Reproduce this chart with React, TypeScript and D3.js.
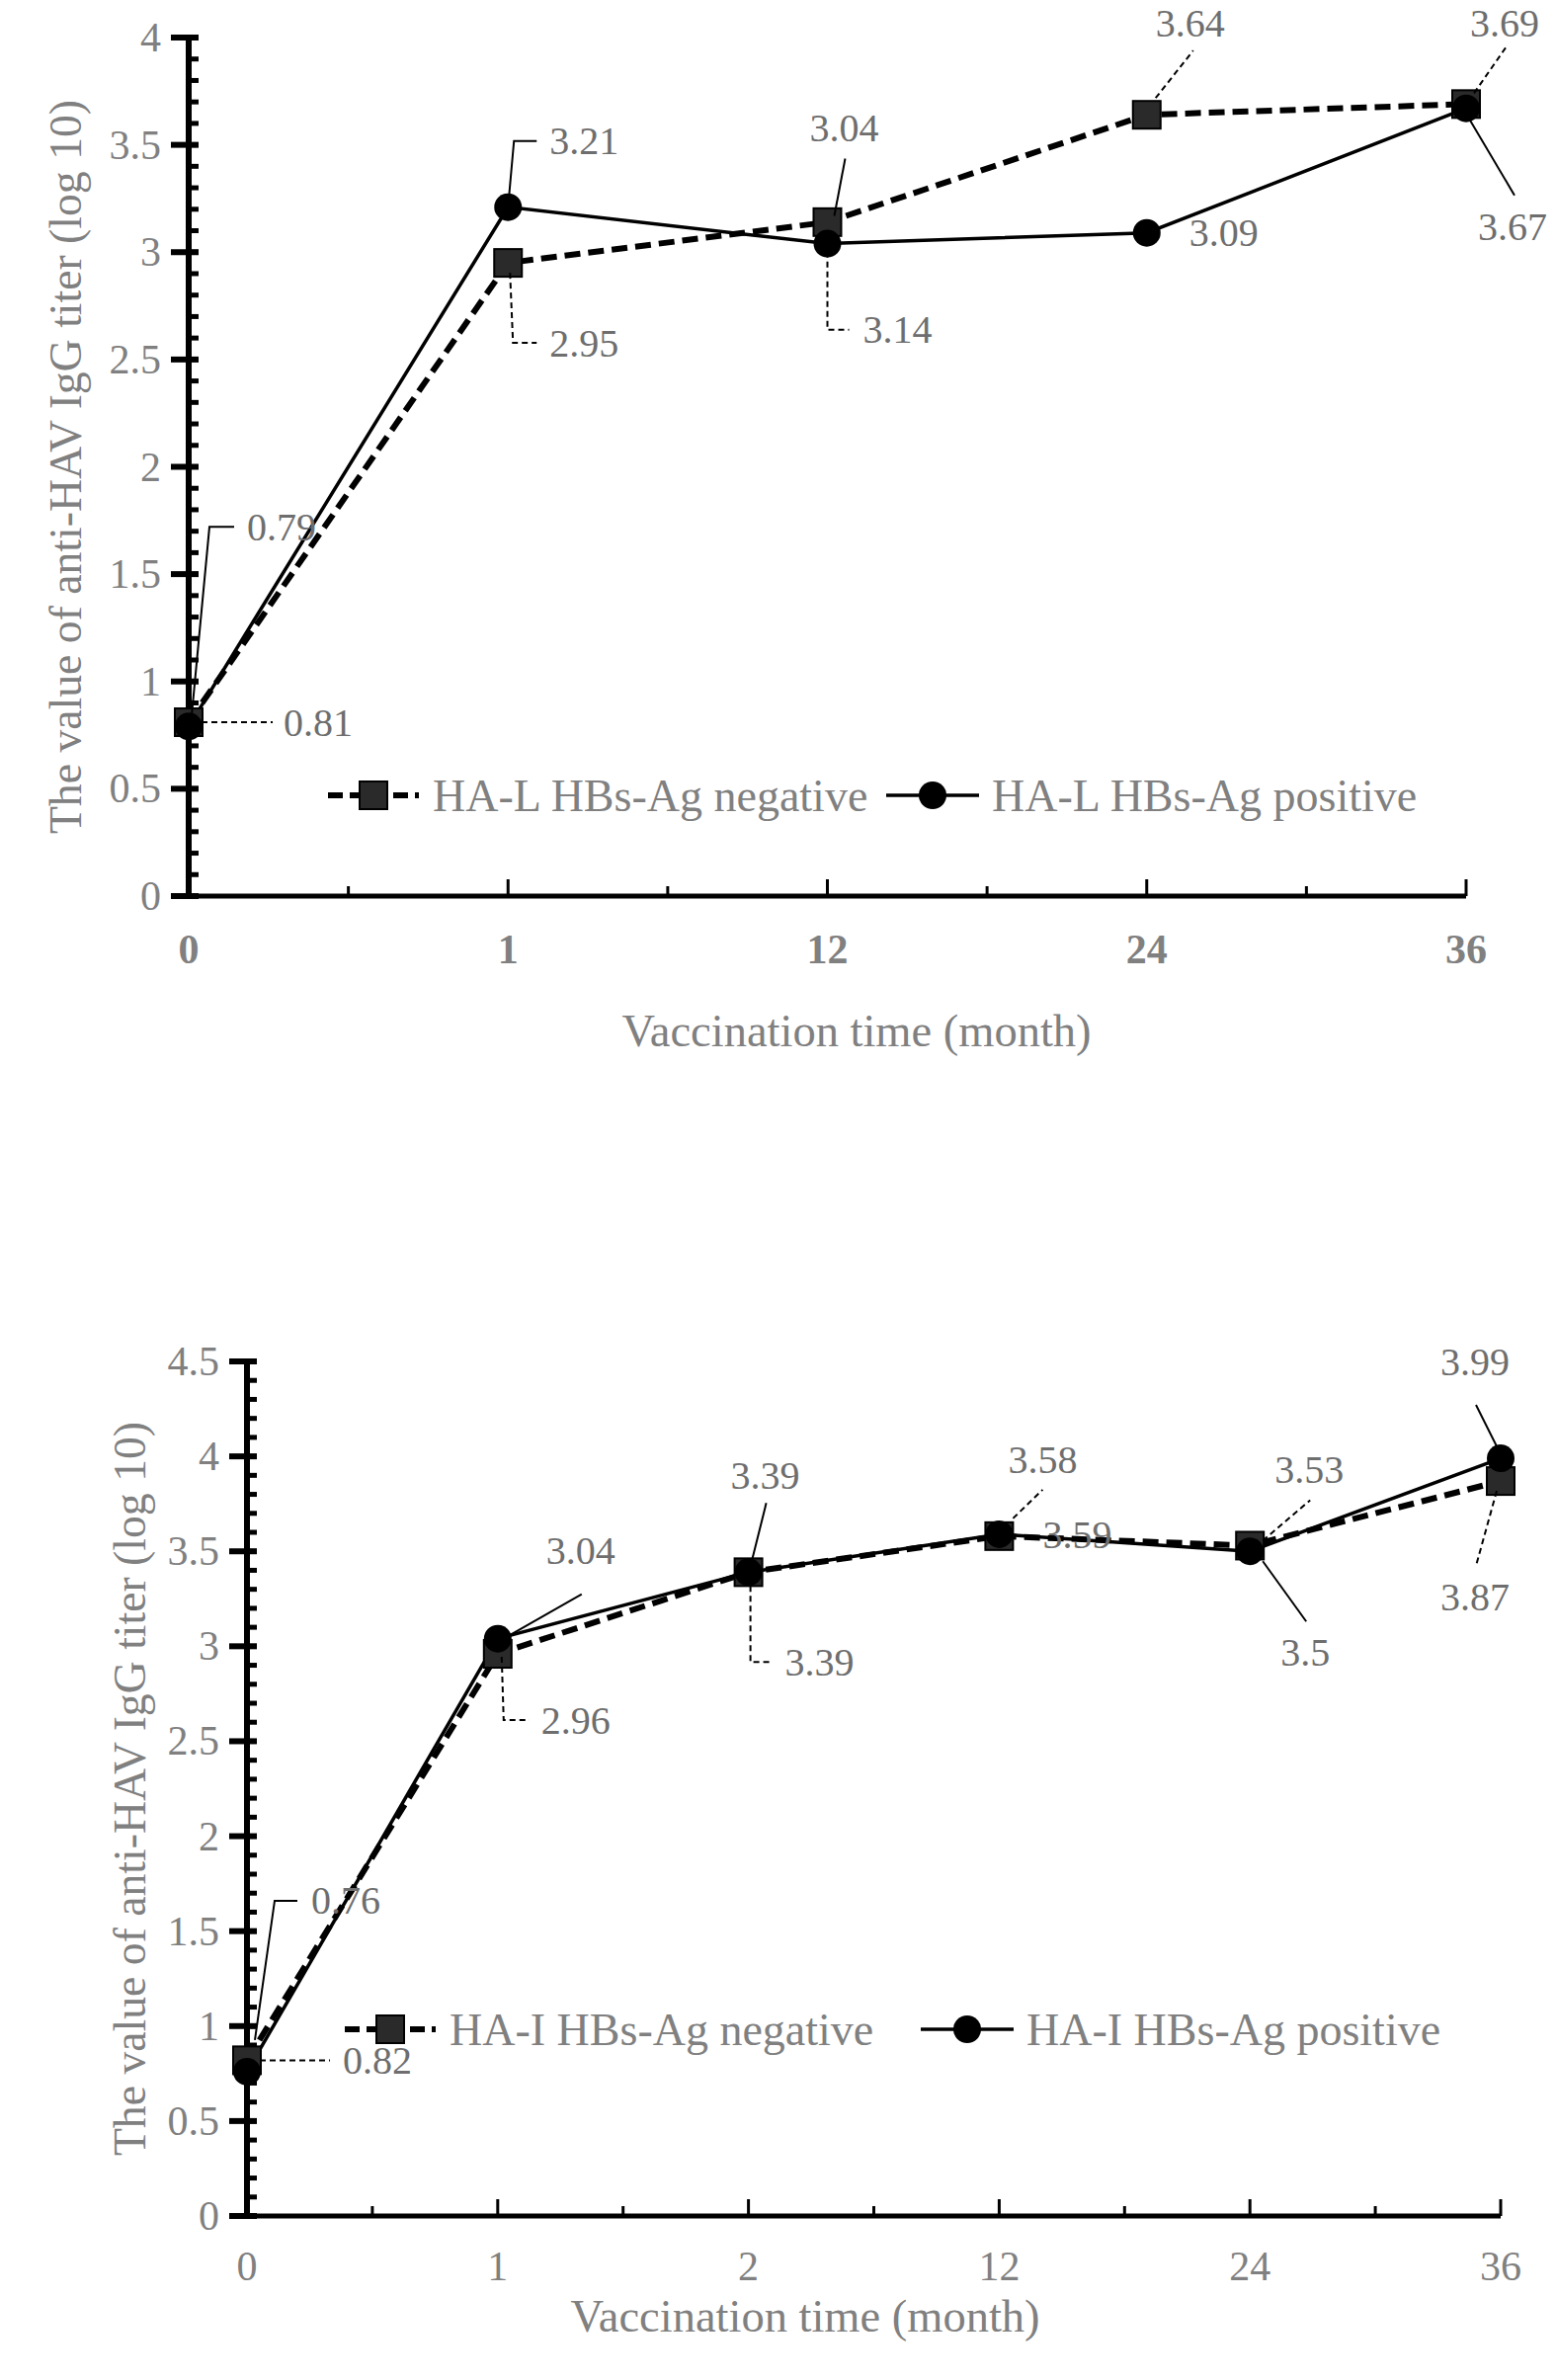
import React from 'react';
import * as d3 from 'd3';

// 上图：HA-L
const topMonths = ['0', '1', '12', '24', '36'];
const topNegative = [0.81, 2.95, 3.14, 3.64, 3.69];
const topPositive = [0.79, 3.21, 3.04, 3.09, 3.67];
const topNames = ['HA-L HBs-Ag negative', 'HA-L HBs-Ag positive'];
const topYTicks = [0, 0.5, 1, 1.5, 2, 2.5, 3, 3.5, 4];

// 下图：HA-I
const bottomMonths = ['0', '1', '2', '12', '24', '36'];
const bottomNegative = [0.82, 2.96, 3.39, 3.58, 3.53, 3.87];
const bottomPositive = [0.76, 3.04, 3.39, 3.59, 3.5, 3.99];
const bottomNames = ['HA-I HBs-Ag negative', 'HA-I HBs-Ag positive'];
const bottomYTicks = [0, 0.5, 1, 1.5, 2, 2.5, 3, 3.5, 4, 4.5];

const yTitle = 'The value of anti-HAV IgG titer (log 10)';
const xTitle = 'Vaccination time (month)';

type Callout = { path: number[][]; text: number[]; anchor: string };

// 数据标签引线，相对数据点的偏移
const topNegCallouts: Callout[] = [
  { path: [[13, 0], [85, 0]], text: [96, 0], anchor: 'start' },
  { path: [[2, 10], [5, 81], [29, 81]], text: [42, 81], anchor: 'start' },
  { path: [[0, 30], [0, 109], [22, 109]], text: [36, 109], anchor: 'start' },
  { path: [[9, -17], [47, -65]], text: [44, -93], anchor: 'middle' },
  { path: [[8, -11], [40, -57]], text: [39, -82], anchor: 'middle' }
];
const topPosCallouts: Callout[] = [
  { path: [[3, -11], [21, -202], [46, -202]], text: [59, -202], anchor: 'start' },
  { path: [[0, 0], [6, -67], [29, -67]], text: [42, -67], anchor: 'start' },
  { path: [[7, -28], [18, -86]], text: [17, -117], anchor: 'middle' },
  { path: [], text: [43, 0], anchor: 'start' },
  { path: [[4, 12], [49, 88]], text: [47, 120], anchor: 'middle' }
];
const bottomNegCallouts: Callout[] = [
  { path: [[13, 0], [84, 0]], text: [97, 0], anchor: 'start' },
  { path: [[4, 3], [6, 67], [32, 67]], text: [44, 67], anchor: 'start' },
  { path: [[2, 14], [2, 91], [23, 91]], text: [37, 91], anchor: 'start' },
  { path: [[14, -18], [44, -47]], text: [44, -77], anchor: 'middle' },
  { path: [[13, -5], [61, -46]], text: [60, -77], anchor: 'middle' },
  { path: [[-4, 10], [-25, 86]], text: [-26, 117], anchor: 'middle' }
];
const bottomPosCallouts: Callout[] = [
  { path: [[8, -32], [28, -173], [51, -173]], text: [65, -173], anchor: 'start' },
  { path: [[6, 0], [85, -45]], text: [84, -89], anchor: 'middle' },
  { path: [[2, -6], [18, -70]], text: [17, -98], anchor: 'middle' },
  { path: [], text: [79, 1], anchor: 'middle' },
  { path: [[13, 10], [57, 71]], text: [56, 102], anchor: 'middle' },
  { path: [[-2, -8], [-25, -54]], text: [-26, -98], anchor: 'middle' }
];

const FONT = '"Liberation Serif", "Times New Roman", serif';
const GRAY = '#808080';
const LABEL = '#6e6e6e';

type PanelProps = {
  months: string[];
  neg: number[];
  pos: number[];
  names: string[];
  yTicks: number[];
  negCallouts: Callout[];
  posCallouts: Callout[];
  x0: number;
  x1: number;
  y0: number;
  y1: number;
  boldX: boolean;
  xLabelY: number;
  xTitlePos: number[];
  yTitleX: number;
  legendY: number;
  legendNeg: number;
  legendPos: number;
};

function Panel(p: PanelProps): JSX.Element {
  const yMax = p.yTicks[p.yTicks.length - 1];
  const x = d3.scalePoint<string>().domain(p.months).range([p.x0, p.x1]);
  const y = d3.scaleLinear().domain([0, yMax]).range([p.y0, p.y1]);
  const line = d3
    .line<number>()
    .x((_, i) => x(p.months[i]) as number)
    .y((d) => y(d));

  const minorY = d3.range(0, Math.round(yMax * 10) + 1).map((i) => i / 10);
  const step = x.step();
  const midX = p.months.slice(0, -1).map((m) => (x(m) as number) + step / 2);
  const ax = p.x0;

  const callouts = (vals: number[], cs: Callout[], dashed: boolean) =>
    vals.map((v, i) => {
      const px = x(p.months[i]) as number;
      const py = y(v);
      const c = cs[i];
      return (
        <g key={i}>
          {c.path.length > 1 && (
            <polyline
              points={c.path.map((d) => `${px + d[0]},${py + d[1]}`).join(' ')}
              fill="none"
              stroke="#000"
              strokeWidth={2}
              strokeDasharray={dashed ? '6 4' : undefined}
            />
          )}
          <text
            x={px + c.text[0]}
            y={py + c.text[1]}
            textAnchor={c.anchor as any}
            dominantBaseline="central"
            fontSize={40}
            fill={LABEL}
          >
            {String(v)}
          </text>
        </g>
      );
    });

  return (
    <g fontFamily={FONT}>
      {/* y 轴 */}
      <line x1={ax} x2={ax} y1={y(0)} y2={y(yMax)} stroke="#000" strokeWidth={6} />
      {minorY.map((t) => (
        <line key={t} x1={ax} x2={ax + 10} y1={y(t)} y2={y(t)} stroke="#000" strokeWidth={5} />
      ))}
      {p.yTicks.map((t) => (
        <g key={t}>
          <line x1={ax - 18} x2={ax + 10} y1={y(t)} y2={y(t)} stroke="#000" strokeWidth={6} />
          <text x={ax - 28} y={y(t)} textAnchor="end" dominantBaseline="central" fontSize={42} fill={GRAY}>
            {String(t)}
          </text>
        </g>
      ))}
      {/* x 轴 */}
      <line x1={ax - 18} x2={p.x1} y1={y(0)} y2={y(0)} stroke="#000" strokeWidth={5} />
      {p.months.map((m) => (
        <g key={m}>
          <line x1={x(m)} x2={x(m)} y1={y(0)} y2={y(0) - 17} stroke="#000" strokeWidth={3} />
          <text
            x={x(m)}
            y={p.xLabelY}
            textAnchor="middle"
            dominantBaseline="central"
            fontSize={42}
            fontWeight={p.boldX ? 'bold' : 'normal'}
            fill={GRAY}
          >
            {m}
          </text>
        </g>
      ))}
      {midX.map((mx, i) => (
        <line key={i} x1={mx} x2={mx} y1={y(0)} y2={y(0) - 10} stroke="#000" strokeWidth={3} />
      ))}
      <text x={p.xTitlePos[0]} y={p.xTitlePos[1]} textAnchor="middle" dominantBaseline="central" fontSize={46.5} fill={GRAY}>
        {xTitle}
      </text>
      <text
        transform={`translate(${p.yTitleX},${(y(0) + y(yMax)) / 2}) rotate(-90)`}
        textAnchor="middle"
        dominantBaseline="central"
        fontSize={45.7}
        fill={GRAY}
      >
        {yTitle}
      </text>

      {/* 折线 */}
      <path d={line(p.pos) || ''} fill="none" stroke="#000" strokeWidth={3.5} />
      <path d={line(p.neg) || ''} fill="none" stroke="#000" strokeWidth={6} strokeDasharray="16 8" />
      {p.neg.map((v, i) => (
        <rect
          key={i}
          x={(x(p.months[i]) as number) - 14}
          y={y(v) - 14}
          width={28}
          height={28}
          fill="#2a2a2a"
          stroke="#000"
          strokeWidth={2}
        />
      ))}
      {p.pos.map((v, i) => (
        <circle key={i} cx={x(p.months[i])} cy={y(v)} r={14} fill="#000" />
      ))}

      {/* 数据标签 */}
      {callouts(p.neg, p.negCallouts, true)}
      {callouts(p.pos, p.posCallouts, false)}

      {/* 图例 */}
      <line x1={p.legendNeg - 46} x2={p.legendNeg + 46} y1={p.legendY} y2={p.legendY} stroke="#000" strokeWidth={6} strokeDasharray="15 7" />
      <rect x={p.legendNeg - 14} y={p.legendY - 14} width={28} height={28} fill="#2a2a2a" stroke="#000" strokeWidth={2} />
      <text x={p.legendNeg + 60} y={p.legendY} dominantBaseline="central" fontSize={46} fill={GRAY}>
        {p.names[0]}
      </text>
      <line x1={p.legendPos - 47} x2={p.legendPos + 47} y1={p.legendY} y2={p.legendY} stroke="#000" strokeWidth={3.5} />
      <circle cx={p.legendPos} cy={p.legendY} r={14} fill="#000" />
      <text x={p.legendPos + 60} y={p.legendY} dominantBaseline="central" fontSize={46} fill={GRAY}>
        {p.names[1]}
      </text>
    </g>
  );
}

export default function App(): JSX.Element {
  return (
    <svg
      width={1575}
      height={2409}
      style={{ position: 'absolute', left: 0, top: 0, background: '#fff' }}
    >
      <rect width={1575} height={2409} fill="#fff" />
      <Panel
        months={topMonths}
        neg={topNegative}
        pos={topPositive}
        names={topNames}
        yTicks={topYTicks}
        negCallouts={topNegCallouts}
        posCallouts={topPosCallouts}
        x0={191}
        x1={1484}
        y0={907}
        y1={38}
        boldX={true}
        xLabelY={961}
        xTitlePos={[867, 1043]}
        yTitleX={66}
        legendY={805}
        legendNeg={378}
        legendPos={944}
      />
      <Panel
        months={bottomMonths}
        neg={bottomNegative}
        pos={bottomPositive}
        names={bottomNames}
        yTicks={bottomYTicks}
        negCallouts={bottomNegCallouts}
        posCallouts={bottomPosCallouts}
        x0={250}
        x1={1519}
        y0={2243}
        y1={1378}
        boldX={false}
        xLabelY={2294}
        xTitlePos={[815, 2344]}
        yTitleX={131}
        legendY={2054}
        legendNeg={395}
        legendPos={979}
      />
    </svg>
  );
}
